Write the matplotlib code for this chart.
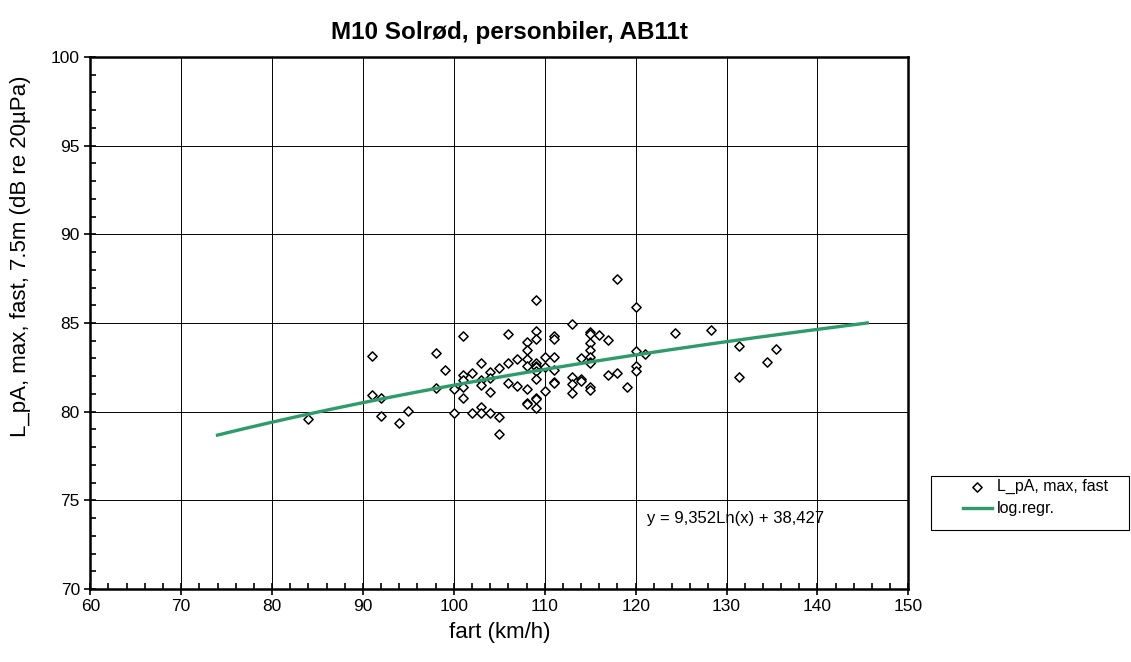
import numpy as np
import matplotlib
matplotlib.use("Agg")
import matplotlib.pyplot as plt
from matplotlib.ticker import MultipleLocator
from matplotlib.patches import Rectangle

plt.rcParams['font.family'] = ['Liberation Sans', 'DejaVu Sans']

# measured points: speed (km/h) and level (dB)
speed = [84, 91, 91, 92, 92, 94, 95, 98, 98, 99, 100, 100,
         101, 101, 101, 101, 101, 102, 102,
         103, 103, 103, 103, 103, 104, 104, 104, 104,
         105, 105, 105, 106, 106, 106, 107, 107,
         108, 108, 108, 108, 108, 108, 108,
         109, 109, 109, 109, 109, 109, 109, 109, 109, 109, 109,
         110, 110, 110, 111, 111, 111, 111, 111, 111,
         113, 113, 113, 113, 114, 114, 114,
         115, 115, 115, 115, 115, 115, 115, 115, 115,
         116, 117, 117, 118, 118, 119, 120, 120, 120, 120, 121,
         124.3, 128.3, 131.4, 131.4, 134.4, 135.4]
level = [79.6, 83.15, 80.95, 80.75, 79.75, 79.37, 80.02, 83.29, 81.33, 82.33, 81.26, 79.94,
         84.28, 82.06, 81.78, 81.37, 80.75, 82.16, 79.9,
         82.76, 81.78, 81.5, 80.28, 79.93, 82.25, 81.91, 81.12, 79.9,
         82.45, 79.68, 78.75, 84.36, 82.76, 81.6, 82.95, 81.46,
         83.94, 83.47, 82.95, 82.57, 81.26, 80.5, 80.45,
         86.3, 84.56, 84.09, 82.76, 82.57, 82.52, 82.3, 81.82, 80.75, 80.7, 80.19,
         83.1, 82.53, 81.18, 84.26, 84.08, 83.06, 82.35, 81.69, 81.64,
         84.92, 81.97, 81.56, 81.03, 83.0, 81.82, 81.72,
         84.5, 84.4, 83.88, 83.47, 83.1, 82.8, 82.76, 81.4, 81.2,
         84.32, 84.04, 82.06, 87.47, 82.16, 81.4, 85.88, 83.42, 82.6, 82.3, 83.25,
         84.45, 84.62, 83.68, 81.97, 82.78, 83.55]

# log regression from the chart
reg_a = 9.352
reg_b = 38.427
reg_x0, reg_x1 = 74, 145.5

W, H = 1131, 662
fig = plt.figure(figsize=(W / 100, H / 100), dpi=100)
ax = fig.add_axes([90.3 / W, 1 - 589 / H, 818 / W, 532 / H])

ax.scatter(speed, level, marker='D', s=22, facecolors='white', edgecolors='black',
           linewidths=1.1, zorder=3, label='L_pA, max, fast')
xr = np.linspace(reg_x0, reg_x1, 200)
ax.plot(xr, reg_a * np.log(xr) + reg_b, color='#2E9B6A', lw=2.4, zorder=4, label='log.regr.')

ax.text(121.3, 73.95, 'y = 9,352Ln(x) + 38,427', fontsize=12, va='center', ha='left')

ax.set_xlim(60, 150)
ax.set_ylim(70, 100)
ax.xaxis.set_major_locator(MultipleLocator(10))
ax.xaxis.set_minor_locator(MultipleLocator(2))
ax.yaxis.set_major_locator(MultipleLocator(5))
ax.yaxis.set_minor_locator(MultipleLocator(1))
ax.tick_params(which='major', direction='inout', length=8, width=1.2, labelsize=12.5)
ax.tick_params(which='minor', direction='in', length=4, width=1.2)
ax.grid(True, which='major', color='black', lw=0.7)
ax.set_axisbelow(True)
for s in ax.spines.values():
    s.set_linewidth(1.8)

ax.set_xlabel('fart (km/h)', fontsize=16)
ax.xaxis.set_label_coords(0.5, (589 - 622) / 532)
ax.set_ylabel('L_pA, max, fast, 7.5m (dB re 20µPa)', fontsize=16)
ax.yaxis.set_label_coords((31 - 90.3) / 818, (589 - 256) / 532)
fig.text(509.5 / W, 1 - 33 / H, 'M10 Solrød, personbiler, AB11t', fontsize=17.5,
         fontweight='bold', ha='center', va='center')

# legend box like the excel one
fig.patches.append(Rectangle((931 / W, 1 - 530 / H), 198 / W, 54 / H,
                             transform=fig.transFigure, fill=False,
                             edgecolor='black', lw=0.8))
leg = ax.legend(loc='upper left', bbox_to_anchor=(963 / W, 1 - 479 / H),
                bbox_transform=fig.transFigure, fontsize=11.5, frameon=False,
                borderpad=0, borderaxespad=0, handlelength=1.8, handletextpad=0.3,
                labelspacing=0.45)

fig.savefig('out.png', dpi=100)
